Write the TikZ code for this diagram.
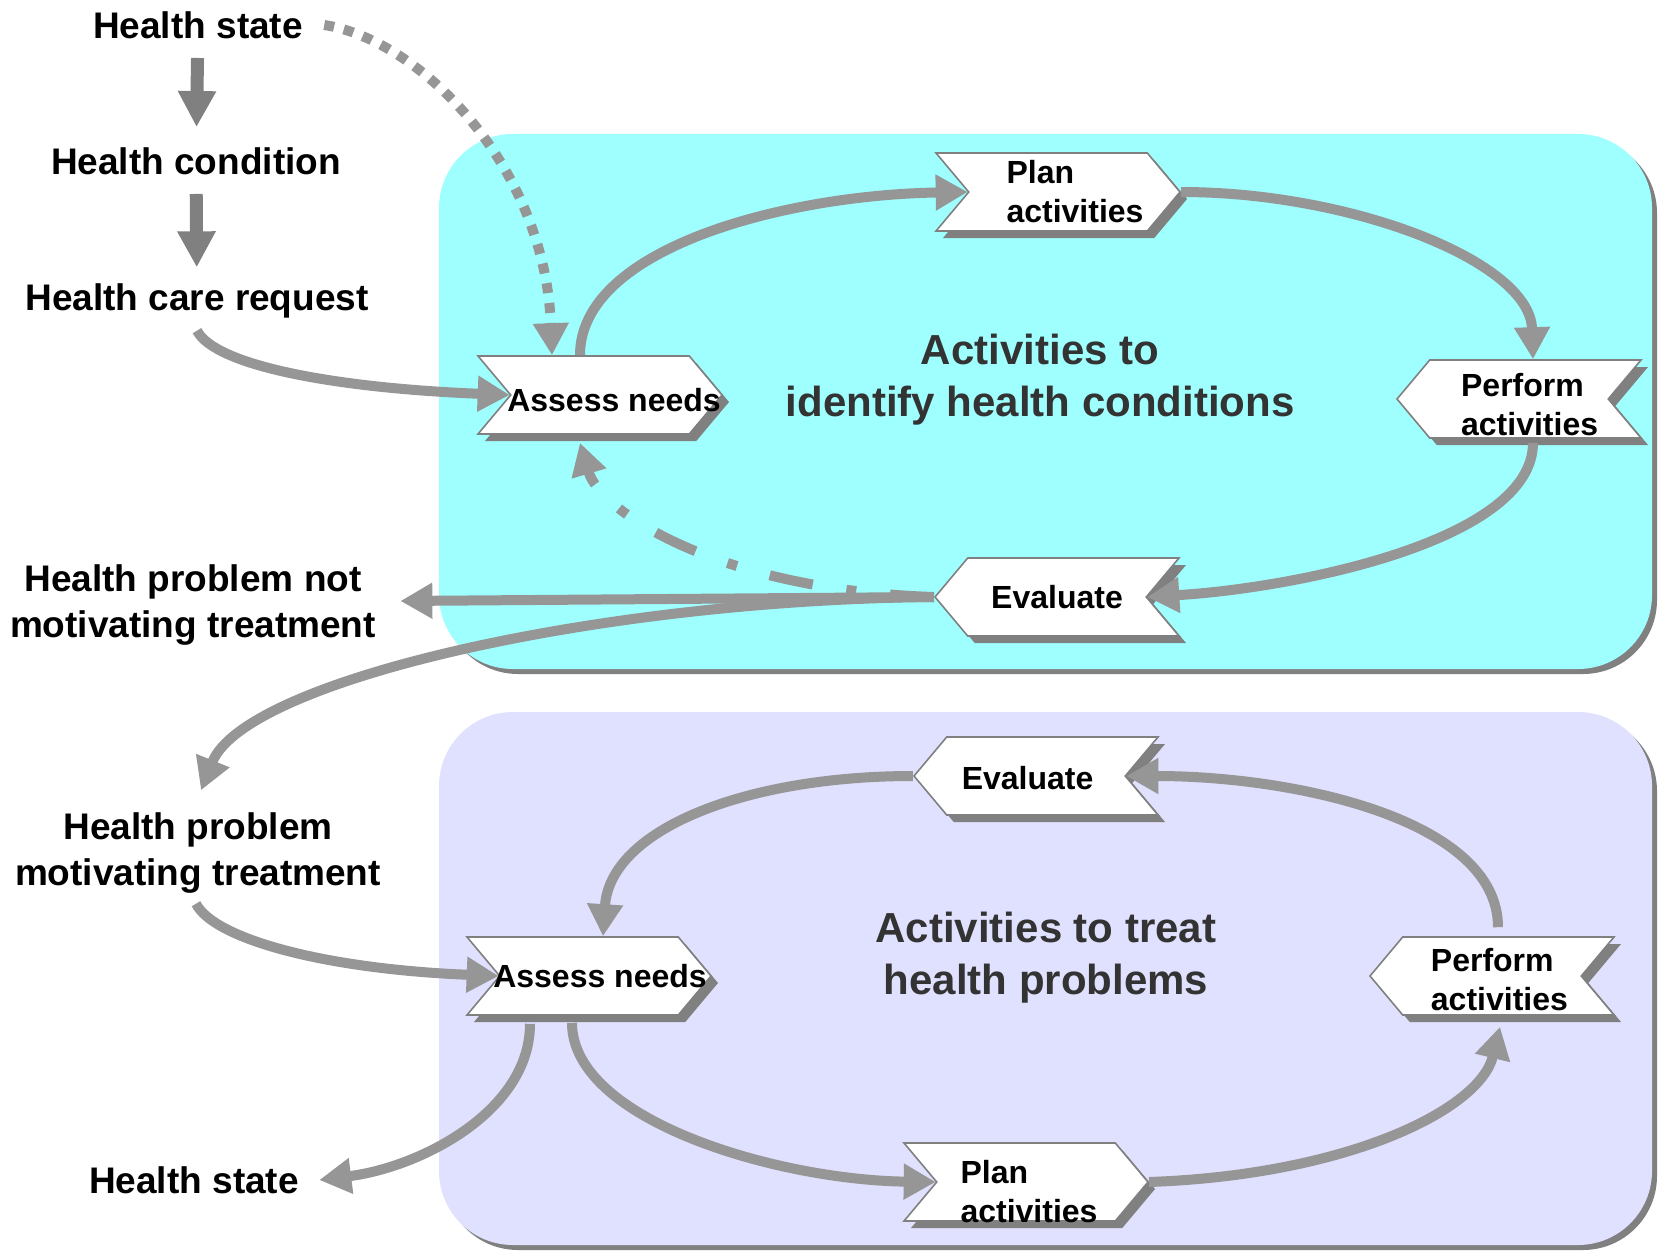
\documentclass[tikz,border=0pt]{standalone}
\usepackage{fontspec}
\setmainfont{Liberation Sans}
\usetikzlibrary{shapes.symbols,shadows,arrows.meta,calc}
\definecolor{idcyan}{HTML}{9FFFFF}
\definecolor{trlav}{HTML}{E0E0FF}
\definecolor{flowgray}{HTML}{969696}
\definecolor{edgegray}{HTML}{808080}
\definecolor{titlegray}{HTML}{333333}
\tikzset{
  chevron/.style={signal, signal pointer angle=100, draw=edgegray, line width=0.8pt,
    fill=white, minimum width=122pt, minimum height=39pt, inner sep=2pt,
    drop shadow={shadow xshift=3.5pt, shadow yshift=-3.5pt, fill=edgegray, opacity=1}},
  chevtext/.style={align=left, inner sep=0pt, font=\bfseries\fontsize{16}{19.5}\selectfont},
  toeast/.style={chevron, signal to=east, signal from=west},
  towest/.style={chevron, signal to=west, signal from=east},
  sidetext/.style={align=center, inner sep=0pt, font=\bfseries\fontsize{18.5}{23}\selectfont},
  areatitle/.style={align=center, inner sep=0pt, text=titlegray,
    font=\bfseries\fontsize{21}{26}\selectfont},
  flow/.style={draw=flowgray, line width=5pt, -{Triangle[length=16pt,width=17pt]}},
  stepflow/.style={draw=edgegray, line width=6.5pt, -{Triangle[length=18pt,width=18pt]}},
  dotflow/.style={flow, line width=5pt, dash pattern=on 5pt off 5pt},
  dashdotflow/.style={flow, dash pattern=on 22pt off 17pt on 5pt off 17pt}
}
\begin{document}
\begin{tikzpicture}[x=0.5pt,y=-0.5pt]
\useasboundingbox (0,0) rectangle (1660,1252);
% the two areas
\fill[edgegray, rounded corners=37pt] (444,139) rectangle (1657,674);
\fill[idcyan, rounded corners=37pt] (439,134) rectangle (1652,669);
\fill[edgegray, rounded corners=37pt] (444,717) rectangle (1657,1250);
\fill[trlav, rounded corners=37pt] (439,712) rectangle (1652,1245);
\node[areatitle] (title1) at (1040,380) {Activities to\\identify health conditions};
\node[areatitle] (title2) at (1046,958) {Activities to treat\\health problems};

% texts on the left
\node[sidetext] (hs1) at (198,25) {Health state};
\node[sidetext] (hc) at (196,161) {Health condition};
\node[sidetext] (hcr) at (197,301) {Health care request};
\node[sidetext] (hpn) at (193,605) {Health problem not\\motivating treatment};
\node[sidetext] (hpm) at (198,853) {Health problem\\motivating treatment};
\node[sidetext] (hs2) at (194,1180) {Health state};

% activities
\node[toeast, label={[chevtext, xshift=7pt, yshift=-2.5pt]center:Assess needs}] (an1) at (600,395) {};
\node[toeast, label={[chevtext, xshift=8.5pt]center:{Plan\\activities}}] (pa1) at (1058,192) {};
\node[towest, label={[chevtext, xshift=5.3pt, yshift=-2.6pt]center:{Perform\\activities}}] (pe1) at (1519,399) {};
\node[towest, label={[chevtext]center:Evaluate}] (ev1) at (1057,597) {};
\node[towest, label={[chevtext, xshift=-4.2pt, yshift=-1pt]center:Evaluate}] (ev2) at (1036,776) {};
\node[toeast, label={[chevtext, xshift=5.5pt]center:Assess needs}] (an2) at (589,976) {};
\node[towest, label={[chevtext, xshift=3.7pt, yshift=-2pt]center:{Perform\\activities}}] (pe2) at (1492,976) {};
\node[toeast, label={[chevtext, xshift=1.5pt, yshift=-4.75pt]center:{Plan\\activities}}] (pa2) at (1026,1182) {};

% connectors
\draw[stepflow, shorten <=9.5pt, shorten >=10pt] (hs1) -- (hc);
\draw[stepflow, shorten <=9.5pt, shorten >=8pt] (hc) -- (hcr);
\draw[flow] ($(hcr.south)+(0,12)$) .. controls +(18,35) and +(-175,-7) .. (an1.west);
\draw[dotflow] ($(hs1.east)+(21,0)$) .. controls +(97,15) and +(-7,-188) .. ($(an1.north)+(-48,0)$);
\draw[flow] ($(an1.north)+(-20,0)$) .. controls +(0,-107) and +(-183,3) .. (pa1.west);
\draw[flow] (pa1.east) .. controls +(170,0) and +(-3,-98) .. ($(pe1.north)+(14,0)$);
\draw[flow] ($(pe1.south)+(14,4)$) .. controls +(0,98) and +(148,-9) .. (ev1.east);
\draw[flow] (ev1.west) -- ($(hpn.east)+(24,-4)$);
\draw[dashdotflow] (ev1.west) .. controls +(-217,-7) and +(20,68) .. ($(an1.south)+(-20,8)$);
\draw[flow] (ev1.west) .. controls +(-336,3) and +(44,-110) .. ($(hpm.north)+(3,-22)$);
\draw[flow] ($(hpm.south)+(-2,10)$) .. controls +(18,35) and +(-175,-7) .. (an2.west);
\draw[flow] (ev2.west) .. controls +(-167,0) and +(7,-107) .. ($(an2.north)+(14,0)$);
\draw[flow] ($(pe2.north)+(6,-9)$) .. controls +(0,-108) and +(167,0) .. (ev2.east);
\draw[flow] ($(an2.south)+(-17,7)$) .. controls +(0,98) and +(-157,-2) .. (pa2.west);
\draw[flow] (pa2.east) .. controls +(198,-7) and +(-20,83) .. ($(pe2.south)+(8,11)$);
\draw[flow] ($(an2.south)+(-59,8)$) .. controls +(0,87) and +(102,-13) .. ($(hs2.east)+(20,0)$);
\end{tikzpicture}
\end{document}
